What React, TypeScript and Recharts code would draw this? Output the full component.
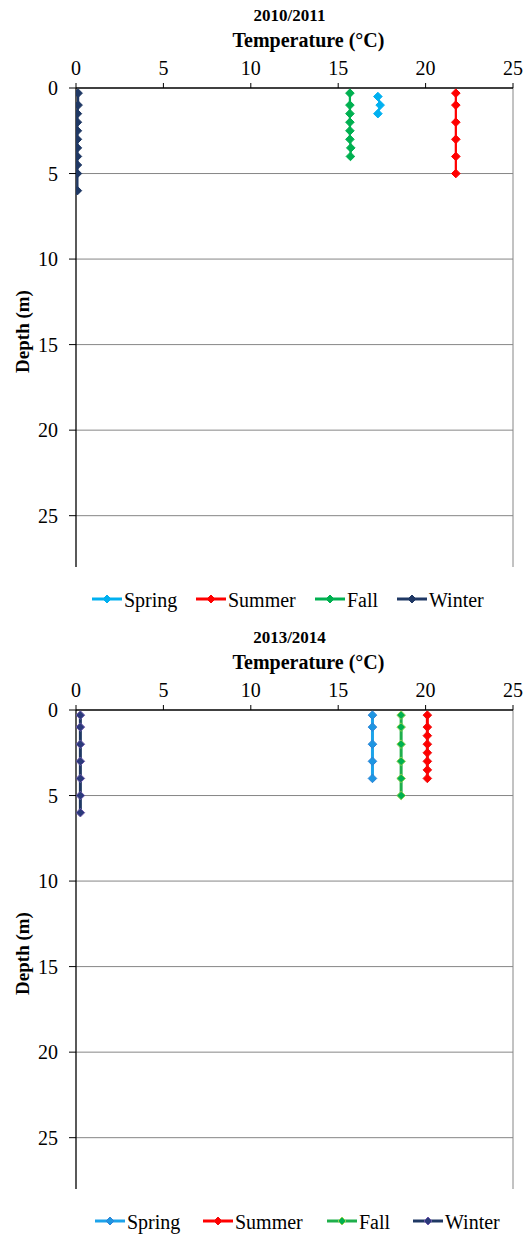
import React from 'react';
import { ScatterChart, Scatter, XAxis, YAxis, CartesianGrid, ReferenceLine, Label, Legend } from 'recharts';

// ---- shared tick labels ----
const temperatureTicks = [0, 5, 10, 15, 20, 25];
const depthTicks = [0, 5, 10, 15, 20, 25];
const seasonNames = ['Spring', 'Summer', 'Fall', 'Winter'];

// ---- 2010/2011 ----
const spring2010Depth = [0.5, 1, 1.5];
const spring2010Temp = [17.27, 17.4, 17.27];
const summer2010Depth = [0.3, 1, 2, 3, 4, 5];
const summer2010Temp = [21.73, 21.73, 21.73, 21.73, 21.73, 21.73];
const fall2010Depth = [0.3, 1, 1.5, 2, 2.5, 3, 3.5, 4];
const fall2010Temp = [15.67, 15.67, 15.67, 15.67, 15.67, 15.67, 15.72, 15.7];
const winter2010Depth = [0.3, 1, 1.5, 2, 2.5, 3, 3.5, 4, 4.5, 5, 6];
const winter2010Temp = [0.12, 0.12, 0.08, 0.08, 0.08, 0.08, 0.08, 0.08, 0.08, 0.08, 0.08];

// ---- 2013/2014 ----
const spring2013Depth = [0.3, 1, 2, 3, 4];
const spring2013Temp = [16.96, 16.96, 16.96, 16.96, 16.96];
const summer2013Depth = [0.3, 1, 1.5, 2, 2.5, 3, 3.5, 4];
const summer2013Temp = [20.1, 20.1, 20.1, 20.1, 20.1, 20.1, 20.1, 20.1];
const fall2013Depth = [0.3, 1, 2, 3, 4, 5];
const fall2013Temp = [18.6, 18.6, 18.6, 18.6, 18.6, 18.6];
const winter2013Depth = [0.3, 1, 2, 3, 4, 5, 6];
const winter2013Temp = [0.25, 0.25, 0.25, 0.25, 0.25, 0.25, 0.25];

const zip = (d: number[], t: number[]) => d.map((dv, i) => ({ d: dv, t: t[i] }));

const FONT = '"Liberation Serif", "Times New Roman", serif';

type Series = { name: string; data: { d: number; t: number }[]; line: string; fill: string; stroke: string };

const seriesTop: Series[] = [
  { name: seasonNames[0], data: zip(spring2010Depth, spring2010Temp), line: '#00B0F0', fill: '#00B0F0', stroke: '#00B0F0' },
  { name: seasonNames[1], data: zip(summer2010Depth, summer2010Temp), line: '#FF0000', fill: '#FF0000', stroke: '#FF0000' },
  { name: seasonNames[2], data: zip(fall2010Depth, fall2010Temp), line: '#00B050', fill: '#00B050', stroke: '#00B050' },
  { name: seasonNames[3], data: zip(winter2010Depth, winter2010Temp), line: '#1F3864', fill: '#1F3864', stroke: '#1F3864' },
];

const seriesBottom: Series[] = [
  { name: seasonNames[0], data: zip(spring2013Depth, spring2013Temp), line: '#1CA3EA', fill: '#1E96E2', stroke: '#2E84D6' },
  { name: seasonNames[1], data: zip(summer2013Depth, summer2013Temp), line: '#FF0000', fill: '#FF0000', stroke: '#F01010' },
  { name: seasonNames[2], data: zip(fall2013Depth, fall2013Temp), line: '#1FAF4B', fill: '#00B050', stroke: '#92D050' },
  { name: seasonNames[3], data: zip(winter2013Depth, winter2013Temp), line: '#1F3864', fill: '#2A3A7A', stroke: '#6A56A8' },
];

const diamond = (fill: string, stroke: string, r: number) => (props: any) => {
  const { cx, cy } = props;
  if (cx == null || cy == null) return <g />;
  return (
    <polygon
      points={`${cx},${cy - r} ${cx + r},${cy} ${cx},${cy + r} ${cx - r},${cy}`}
      fill={fill}
      stroke={stroke}
      strokeWidth={1}
    />
  );
};

function Panel({ title, series, lineWidth, legendX }: { title: string; series: Series[]; lineWidth: number; legendX: number[] }) {
  const xLabel = (props: any) => {
    const vb = props.viewBox || {};
    const axisY = vb.y + vb.height;
    const cx = vb.x + vb.width / 2;
    return (
      <g>
        <text x={cx - 5} y={axisY - 67} textAnchor="middle" fontFamily={FONT} fontWeight="bold" fontSize={17} fill="#000">
          {title}
        </text>
        <text x={cx + 14} y={axisY - 41} textAnchor="middle" fontFamily={FONT} fontWeight="bold" fontSize={20} fill="#000">
          Temperature (°C)
        </text>
      </g>
    );
  };
  const yLabel = (props: any) => {
    const vb = props.viewBox || {};
    const cy = vb.y + vb.height / 2 + 4;
    return (
      <text x={22} y={cy} transform={`rotate(-90, 22, ${cy})`} textAnchor="middle" dominantBaseline="central" fontFamily={FONT} fontWeight="bold" fontSize={19} fill="#000">
        Depth (m)
      </text>
    );
  };
  const legendContent = () => (
    <div style={{ position: 'relative', width: 527, height: 24, fontFamily: FONT, fontSize: 20, lineHeight: '24px', color: '#000' }}>
      {series.map((s, i) => (
        <div key={s.name} style={{ position: 'absolute', left: legendX[i], top: 0, display: 'flex', alignItems: 'center', height: 24 }}>
          <svg width={30} height={12} style={{ display: 'block', marginTop: -2 }}>
            <line x1={0} y1={6} x2={30} y2={6} stroke={s.line} strokeWidth={3} />
            <polygon points="15,2 19,6 15,10 11,6" fill={s.fill} stroke={s.stroke} strokeWidth={1} />
          </svg>
          <span style={{ marginLeft: 2, whiteSpace: 'nowrap' }}>{s.name}</span>
        </div>
      ))}
    </div>
  );
  return (
    <ScatterChart width={527} height={622} margin={{ top: 8, right: 14, bottom: 55, left: 0 }}>
      <CartesianGrid horizontal={true} vertical={false} stroke="#868686" strokeWidth={1} horizontalValues={[5, 10, 15, 20, 25]} />
      <ReferenceLine x={25} stroke="#868686" strokeWidth={1} />
      <XAxis
        type="number"
        dataKey="t"
        orientation="top"
        domain={[0, 25]}
        ticks={temperatureTicks}
        height={80}
        tickSize={5}
        tickMargin={8}
        axisLine={{ stroke: '#000', strokeWidth: 1.3 }}
        tickLine={{ stroke: '#000' }}
        tick={{ fontFamily: FONT, fontSize: 20, fill: '#000' }}
        allowDataOverflow
      >
        <Label content={xLabel} />
      </XAxis>
      <YAxis
        type="number"
        dataKey="d"
        reversed
        domain={[0, 28]}
        ticks={depthTicks}
        width={76}
        tickSize={7}
        tickMargin={11}
        axisLine={{ stroke: '#000', strokeWidth: 1.3 }}
        tickLine={{ stroke: '#000' }}
        tick={{ fontFamily: FONT, fontSize: 20, fill: '#000' }}
        allowDataOverflow
      >
        <Label content={yLabel} />
      </YAxis>
      {series.map((s) => (
        <Scatter
          key={s.name}
          name={s.name}
          data={s.data}
          line={{ stroke: s.line, strokeWidth: lineWidth }}
          shape={diamond(s.fill, s.stroke, 4.3)}
          isAnimationActive={false}
        />
      ))}
      <Legend
        layout="horizontal"
        verticalAlign="middle"
        align="center"
        content={legendContent}
        wrapperStyle={{ position: 'absolute', left: 0, top: 588, width: 527, height: 24 }}
      />
    </ScatterChart>
  );
}

export default function App() {
  return (
    <div style={{ position: 'absolute', left: 0, top: 0, width: 527, height: 1238, background: '#fff' }}>
      <div style={{ position: 'absolute', left: 0, top: 0 }}>
        <Panel title="2010/2011" series={seriesTop} lineWidth={2.25} legendX={[92, 196, 315, 397]} />
      </div>
      <div style={{ position: 'absolute', left: 0, top: 622 }}>
        <Panel title="2013/2014" series={seriesBottom} lineWidth={3} legendX={[95, 203, 327, 413]} />
      </div>
    </div>
  );
}
